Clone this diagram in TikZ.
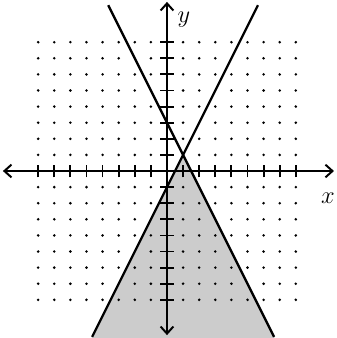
\documentclass[tikz,border=0pt]{standalone}
\usepackage{amsmath,amssymb}
\usepackage{xcolor}
\usepackage{tikz}
\usetikzlibrary{arrows.meta,calc}

\begin{document}
\begin{tikzpicture}[
  x = 0.4cm, y = 0.4cm,
  every node/.style = {font=\fontsize{16}{18}\selectfont, inner sep=1pt},
  axis/.style    = {{Straight Barb[length=5pt,width=9pt]}-{Straight Barb[length=5pt,width=9pt]},
                    line width=1.4pt},
  bound/.style   = {line width=1.6pt},
  tickmark/.style = {line width=1.3pt},
  region/.style  = {fill=black!20},
  gdot/.style    = {fill=black},
]
\useasboundingbox (-10.37,-10.37) rectangle (10.5,10.62);

% ── Shaded solution region ───────────────────────────────────
\coordinate (P)  at (1,1);
\fill[region] (P) -- (6.685,-10.37) -- (-4.685,-10.37) -- cycle;

% ── Dot grid (no dots on the axes or on the two lines) ───────
\foreach \a in {-8,...,8} {
  \foreach \b in {-8,...,8} {
    \pgfmathtruncatemacro\hideit{(\a==0) || (\b==0) || (2*\a+\b==3) || (\b==2*\a-1)}
    \ifnum\hideit=0 \fill[gdot] (\a,\b) circle[radius=1pt]; \fi
  }
}

% ── Axes with tick marks ─────────────────────────────────────
\coordinate (XL) at (-10.19,0);
\coordinate (XR) at (10.37,0);
\coordinate (YT) at (0,10.5);
\coordinate (YB) at (0,-10.19);
\foreach \t in {-8,...,-1,1,2,...,8} {
  \draw[tickmark] (\t,-0.4) -- (\t,0.4);
  \draw[tickmark] (-0.42,\t) -- (0.42,\t);
}
\draw[axis] (XL) -- (XR);
\draw[axis] (YB) -- (YT);
\node (xlab) at (10.0,-1.7) {$x$};
\node (ylab) at (1.05,9.4)  {$y$};

% ── Boundary lines ───────────────────────────────────────────
\coordinate (L1a) at (-3.65,10.3);
\coordinate (L1b) at (6.65,-10.3);
\coordinate (L2a) at (5.65,10.3);
\coordinate (L2b) at (-4.65,-10.3);
\draw[bound] (L1a) -- (L1b);
\draw[bound] (L2a) -- (L2b);

\end{tikzpicture}
\end{document}
